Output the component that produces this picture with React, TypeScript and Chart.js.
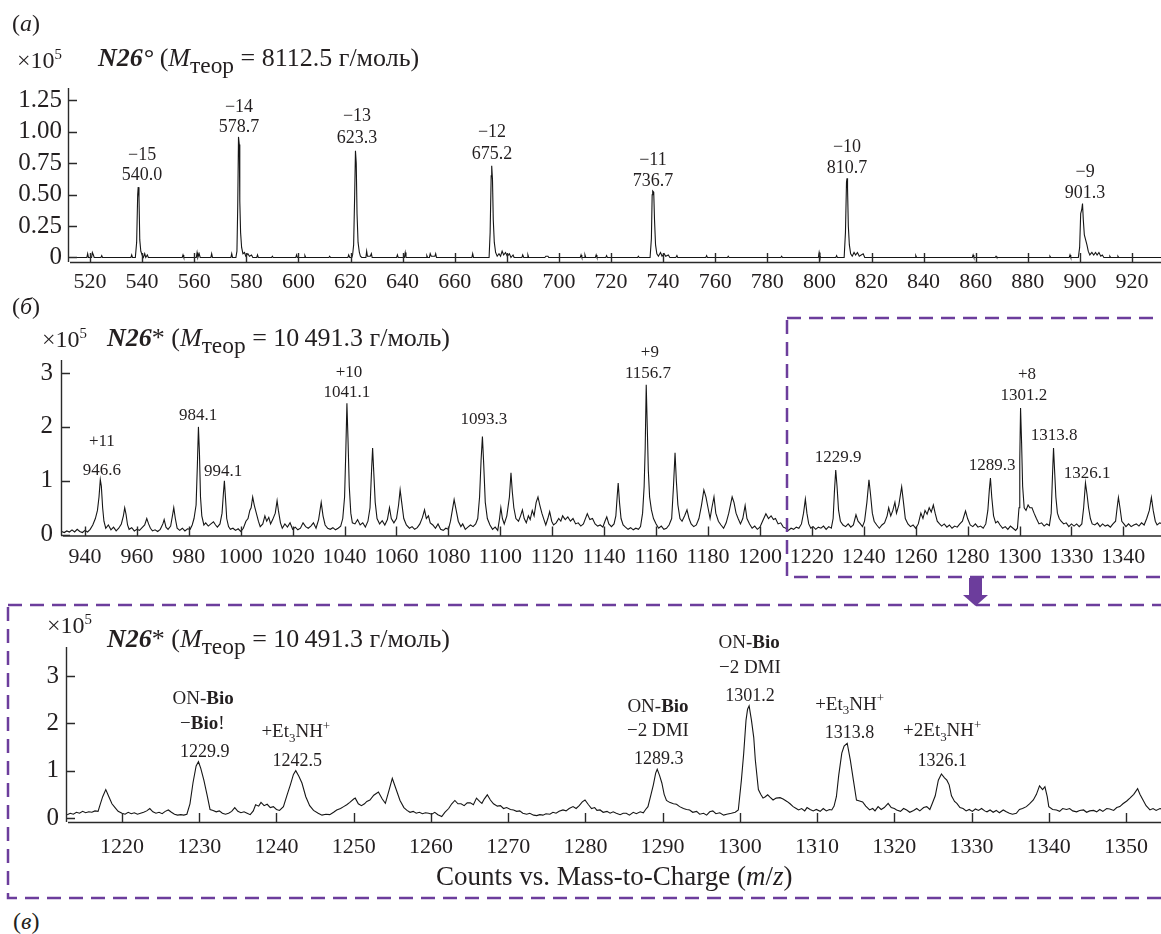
import React, { useEffect, useRef } from 'react';
import { Chart, registerables } from 'chart.js';

Chart.register(...registerables);

const TEXT = '#231f20';
const LINE = '#161616';
const PURPLE = '#6c3d9c';
const SERIF = '"Liberation Serif", "Times New Roman", serif';

// ---------- tick values / labels ----------
const xTicksA = [520, 540, 560, 580, 600, 620, 640, 660, 680, 700, 720, 740, 760, 780, 800, 820, 840, 860, 880, 900, 920];
const xLabelsA = ['520', '540', '560', '580', '600', '620', '640', '660', '680', '700', '720', '740', '760', '780', '800', '820', '840', '860', '880', '900', '920'];
const yTicksA = [0, 0.25, 0.5, 0.75, 1, 1.25];
const yLabelsA = ['0', '0.25', '0.50', '0.75', '1.00', '1.25'];

const xTicksB = [940, 960, 980, 1000, 1020, 1040, 1060, 1080, 1100, 1120, 1140, 1160, 1180, 1200, 1220, 1240, 1260, 1280, 1300, 1320, 1340];
const xLabelsB = ['940', '960', '980', '1000', '1020', '1040', '1060', '1080', '1100', '1120', '1140', '1160', '1180', '1200', '1220', '1240', '1260', '1280', '1300', '1330', '1340'];
const yTicksB = [0, 1, 2, 3];
const yLabelsB = ['0', '1', '2', '3'];

const xTicksC = [1220, 1230, 1240, 1250, 1260, 1270, 1280, 1290, 1300, 1310, 1320, 1330, 1340, 1350];
const xLabelsC = ['1220', '1230', '1240', '1250', '1260', '1270', '1280', '1290', '1300', '1310', '1320', '1330', '1340', '1350'];
const yTicksC = [0, 1, 2, 3];
const yLabelsC = ['0', '1', '2', '3'];

// ---------- spectra (m/z, counts ×10^5) ----------
const spectrumA: [number, number][] = [
  [511.6, 0], [518.8, 0], [519.1, 0.03], [519.4, 0], [520.6, 0], [520.9, 0.04], [521.3, 0.02], [521.6, 0], [524.2, 0], [524.5, 0.015], [524.8, 0],
  [535.7, 0], [536.0, 0.02], [536.3, 0],
  [537.4, 0], [537.9, 0.12], [538.3, 0.5], [538.5, 0.56], [538.8, 0.48], [539.1, 0.14], [539.5, 0.05], [540.0, 0.02], [540.5, 0], [541.0, 0.03], [541.4, 0], [542.0, 0.02], [542.4, 0],
  [555.4, 0], [555.7, 0.02], [556.0, 0], [560.8, 0], [561.1, 0.04], [561.4, 0], [561.9, 0.03], [562.3, 0], [566.4, 0], [566.7, 0.03], [567.0, 0], [574.1, 0], [574.4, 0.03], [574.7, 0],
  [576.0, 0], [576.4, 0.05], [576.7, 0.4], [577.0, 0.96], [577.3, 0.9], [577.5, 0.45], [577.8, 0.2], [578.2, 0.08], [578.7, 0.03], [579.3, 0.04], [579.8, 0.01], [580.6, 0.03], [581.2, 0.01], [582.0, 0.02], [582.5, 0],
  [584.0, 0], [584.3, 0.02], [584.6, 0], [589.7, 0], [590.0, 0.01], [590.3, 0],
  [599.0, 0], [599.3, 0.02], [599.6, 0], [602.2, 0], [602.5, 0.015], [602.8, 0], [611.7, 0], [612.0, 0.01], [612.3, 0], [619.0, 0], [619.3, 0.02], [619.7, 0], [620.5, 0], [620.8, 0.02],
  [621.2, 0.1], [621.6, 0.5], [621.9, 0.85], [622.2, 0.75], [622.5, 0.35], [622.9, 0.12], [623.4, 0.04], [623.8, 0.01], [624.3, 0], [625.9, 0], [626.2, 0.05], [626.5, 0.01], [627.6, 0.01], [628.0, 0.03], [628.3, 0],
  [637.7, 0], [638.0, 0.02], [638.3, 0], [640.7, 0], [641.0, 0.04], [641.3, 0],
  [649.0, 0], [649.3, 0.015], [649.6, 0], [650.3, 0], [650.6, 0.03], [651.0, 0.01], [652.4, 0.01], [652.7, 0.03], [653.0, 0], [666.6, 0], [666.9, 0.03], [667.2, 0],
  [673.2, 0], [673.6, 0.2], [674.0, 0.65], [674.2, 0.73], [674.5, 0.62], [674.8, 0.3], [675.2, 0.12], [675.7, 0.04], [676.3, 0.01], [677.0, 0.03], [677.6, 0.01], [678.2, 0.05], [678.8, 0.02], [679.5, 0.04], [680.2, 0.01], [681.0, 0.03], [681.6, 0], [682.4, 0.02], [682.8, 0],
  [685.8, 0], [686.1, 0.02], [686.5, 0], [687.8, 0], [688.1, 0.02], [688.4, 0],
  [694.6, 0], [695.0, 0.01], [695.8, 0.01], [696.1, 0], [708.2, 0], [708.5, 0.02], [708.8, 0], [709.7, 0], [710.0, 0.02], [710.3, 0], [714.0, 0], [714.3, 0.02], [714.6, 0], [718.0, 0], [718.3, 0.015], [718.6, 0], [730.2, 0], [730.5, 0.01], [730.8, 0],
  [735.0, 0], [735.5, 0.15], [735.8, 0.5], [736.0, 0.53], [736.4, 0.52], [736.7, 0.3], [737.1, 0.1], [737.6, 0.03], [738.2, 0.01], [739.0, 0.04], [739.6, 0.01], [740.4, 0.03], [741.0, 0.01], [742.0, 0.02], [742.6, 0], [744.9, 0], [745.3, 0.015], [745.6, 0],
  [756.4, 0], [756.7, 0.015], [757.0, 0], [764.7, 0], [765.0, 0.01], [765.3, 0], [785.2, 0], [785.5, 0.01], [785.8, 0], [799.6, 0], [799.9, 0.04], [800.2, 0.01], [800.6, 0], [806.3, 0], [806.6, 0.015], [806.9, 0],
  [809.5, 0], [810.0, 0.2], [810.4, 0.6], [810.6, 0.63], [810.8, 0.55], [811.1, 0.25], [811.5, 0.1], [812.0, 0.03], [812.6, 0.01], [813.3, 0.04], [813.9, 0.02], [814.6, 0.04], [815.3, 0.01], [816.8, 0.03], [817.4, 0],
  [836.7, 0], [837.0, 0.015], [837.3, 0], [858.7, 0], [859.0, 0.02], [859.3, 0], [867.5, 0], [867.8, 0.01], [868.1, 0], [888.2, 0], [888.5, 0.01], [888.8, 0], [895.9, 0], [896.2, 0.02], [896.5, 0],
  [899.4, 0], [899.9, 0.08], [900.3, 0.35], [900.7, 0.38], [901.0, 0.43], [901.3, 0.3], [901.7, 0.18], [902.2, 0.14], [902.7, 0.1], [903.2, 0.05], [903.8, 0.02], [904.6, 0.04], [905.3, 0.02], [906.0, 0.04], [906.6, 0.02], [907.3, 0.04], [908.0, 0.01], [908.6, 0.02], [909.2, 0],
  [911.2, 0], [911.5, 0.01], [911.8, 0], [914.3, 0], [914.6, 0.01], [914.9, 0], [931.5, 0],
];

const spectrumB: [number, number][] = [
  [931, 0.06], [932, 0.04], [933, 0.07], [934, 0.05], [935, 0.09], [936, 0.05], [937, 0.1], [938, 0.06], [939, 0.04], [940, 0.08], [941, 0.05], [942, 0.1], [943, 0.18], [944, 0.3],
  [944.8, 0.45], [945.4, 0.7], [945.9, 1.02], [946.3, 0.9], [946.8, 0.5], [947.3, 0.25], [948, 0.12], [949, 0.18], [950, 0.09], [951, 0.14], [952, 0.07], [953, 0.12], [954, 0.2],
  [954.8, 0.35], [955.3, 0.5], [955.8, 0.38], [956.4, 0.18], [957, 0.1], [958, 0.13], [959, 0.07], [960, 0.1], [961, 0.08], [962, 0.13], [963, 0.18], [963.8, 0.3], [964.5, 0.2],
  [965.2, 0.12], [966, 0.07], [967, 0.09], [968, 0.06], [969, 0.1], [970, 0.2], [970.5, 0.28], [971.2, 0.14], [972, 0.1], [973, 0.16], [973.8, 0.38], [974.2, 0.5], [974.8, 0.3],
  [975.5, 0.12], [976.5, 0.08], [977.5, 0.12], [978.5, 0.07], [979.5, 0.11], [980.5, 0.1], [981.3, 0.18], [982, 0.3], [982.8, 0.55], [983.3, 1.3], [983.7, 2.0], [984.1, 1.5],
  [984.5, 0.7], [985, 0.35], [985.8, 0.18], [986.5, 0.22], [987.5, 0.16], [988.5, 0.2], [989.5, 0.24], [990.3, 0.18], [991, 0.14], [992, 0.2], [992.8, 0.4], [993.3, 0.75],
  [993.7, 1.0], [994.1, 0.7], [994.6, 0.3], [995.3, 0.15], [996, 0.1], [997, 0.12], [998, 0.08], [999, 0.11], [1000, 0.06], [1001, 0.12], [1002, 0.25], [1002.8, 0.3],
  [1003.5, 0.45], [1004, 0.5], [1004.6, 0.7], [1005.2, 0.55], [1006, 0.4], [1006.8, 0.25], [1007.5, 0.15], [1008.5, 0.2], [1009.3, 0.35], [1010, 0.25], [1010.8, 0.32],
  [1011.5, 0.2], [1012.3, 0.28], [1013.3, 0.4], [1014, 0.63], [1014.5, 0.45], [1015.3, 0.22], [1016, 0.12], [1017, 0.2], [1018, 0.14], [1019, 0.22], [1020, 0.1], [1021, 0.14],
  [1022, 0.09], [1023, 0.12], [1024, 0.22], [1025, 0.15], [1026, 0.12], [1027, 0.16], [1028, 0.22], [1029, 0.12], [1030, 0.28], [1031, 0.6], [1031.7, 0.35], [1032.5, 0.18],
  [1033.5, 0.12], [1034.5, 0.1], [1035.5, 0.13], [1036.5, 0.09], [1037.5, 0.12], [1038.5, 0.16], [1039.3, 0.3], [1040, 0.7], [1040.5, 1.6], [1040.9, 2.44], [1041.3, 1.8],
  [1041.8, 0.9], [1042.4, 0.4], [1043, 0.22], [1044, 0.2], [1045, 0.28], [1046, 0.18], [1047, 0.22], [1048, 0.14], [1049, 0.25], [1049.8, 0.5], [1050.4, 1.2], [1050.8, 1.61],
  [1051.2, 1.2], [1051.8, 0.6], [1052.5, 0.3], [1053.5, 0.2], [1054.5, 0.26], [1055.5, 0.18], [1056.5, 0.28], [1057.3, 0.5], [1058, 0.3], [1059, 0.22], [1060, 0.3],
  [1060.8, 0.55], [1061.4, 0.83], [1062, 0.6], [1062.8, 0.3], [1063.8, 0.18], [1065, 0.12], [1066, 0.15], [1067, 0.1], [1068, 0.13], [1069, 0.2], [1070, 0.32], [1070.8, 0.46],
  [1071.5, 0.3], [1072.3, 0.35], [1073, 0.22], [1074, 0.18], [1075, 0.12], [1076, 0.2], [1077, 0.1], [1078, 0.08], [1079, 0.12], [1080, 0.1], [1080.8, 0.25], [1081.5, 0.45],
  [1082.2, 0.65], [1083, 0.45], [1083.8, 0.25], [1084.8, 0.15], [1085.5, 0.2], [1086.5, 0.1], [1087.5, 0.14], [1088.5, 0.18], [1089.5, 0.15], [1090.5, 0.2], [1091.3, 0.3],
  [1092, 0.7], [1092.6, 1.4], [1093.1, 1.82], [1093.6, 1.3], [1094.2, 0.6], [1095, 0.3], [1096, 0.18], [1097, 0.1], [1098, 0.14], [1099, 0.08], [1099.7, 0.3], [1100.2, 0.5],
  [1100.8, 0.3], [1101.5, 0.2], [1102.5, 0.35], [1103.5, 0.7], [1104.1, 1.15], [1104.6, 0.8], [1105.2, 0.5], [1106, 0.3], [1107, 0.25], [1107.8, 0.35], [1108.5, 0.46],
  [1109.2, 0.3], [1110, 0.22], [1110.8, 0.35], [1111.5, 0.28], [1112.3, 0.45], [1113, 0.35], [1113.8, 0.6], [1114.5, 0.7], [1115.2, 0.55], [1116, 0.4], [1116.8, 0.28],
  [1117.5, 0.18], [1118.3, 0.3], [1119, 0.43], [1119.8, 0.25], [1120.5, 0.18], [1121.5, 0.22], [1122.5, 0.3], [1123.3, 0.25], [1124, 0.35], [1125, 0.28], [1126, 0.33],
  [1127, 0.25], [1128, 0.3], [1129, 0.2], [1130, 0.22], [1131, 0.16], [1132, 0.2], [1133.5, 0.39], [1134.5, 0.28], [1135.5, 0.3], [1136.5, 0.2], [1137.5, 0.16], [1138.5, 0.18],
  [1139.5, 0.14], [1140.3, 0.25], [1141, 0.33], [1141.8, 0.2], [1142.8, 0.15], [1143.8, 0.2], [1144.5, 0.35], [1145, 0.7], [1145.4, 0.96], [1145.9, 0.6], [1146.5, 0.3],
  [1147.3, 0.18], [1148.2, 0.14], [1149.2, 0.1], [1150.2, 0.13], [1151.2, 0.09], [1152.2, 0.12], [1153.2, 0.1], [1154, 0.15], [1154.8, 0.4], [1155.4, 0.9], [1155.8, 1.6],
  [1156.2, 2.78], [1156.6, 2.0], [1157, 1.2], [1157.5, 0.7], [1158.2, 0.46], [1159, 0.3], [1160, 0.2], [1161, 0.12], [1162, 0.16], [1163, 0.1], [1164, 0.12], [1165, 0.18],
  [1166, 0.3], [1166.7, 0.9], [1167.3, 1.52], [1167.8, 1.0], [1168.4, 0.55], [1169.2, 0.3], [1170, 0.25], [1171, 0.35], [1171.9, 0.46], [1172.7, 0.3], [1173.5, 0.2],
  [1174.5, 0.15], [1175.5, 0.18], [1176.5, 0.3], [1177.5, 0.55], [1178.4, 0.83], [1179.2, 0.7], [1180, 0.5], [1180.8, 0.3], [1181.5, 0.5], [1182.3, 0.7], [1183, 0.4],
  [1184, 0.25], [1185, 0.18], [1186, 0.12], [1187, 0.22], [1188, 0.4], [1189.3, 0.7], [1190, 0.6], [1190.8, 0.4], [1191.6, 0.3], [1192.5, 0.2], [1193.4, 0.3], [1194.3, 0.54],
  [1195, 0.3], [1196, 0.2], [1197, 0.12], [1198, 0.16], [1199, 0.1], [1200, 0.14], [1201, 0.25], [1202.3, 0.39], [1203.3, 0.3], [1204.3, 0.35], [1205.2, 0.28], [1206, 0.3],
  [1207, 0.2], [1208, 0.22], [1209, 0.14], [1210, 0.12], [1211, 0.08], [1212, 0.12], [1213, 0.1], [1214, 0.14], [1215, 0.12], [1216, 0.2], [1216.8, 0.4], [1217.5, 0.66],
  [1218.1, 0.4], [1218.8, 0.2], [1219.6, 0.12], [1220.5, 0.15], [1221.5, 0.1], [1222.5, 0.14], [1223.5, 0.12], [1224.5, 0.16], [1225.5, 0.1], [1226.5, 0.15], [1227.5, 0.12],
  [1228.2, 0.3], [1228.7, 0.8], [1229.2, 1.2], [1229.7, 0.9], [1230.3, 0.45], [1231, 0.25], [1232, 0.18], [1233, 0.15], [1234, 0.2], [1235, 0.14], [1236, 0.18], [1237, 0.37],
  [1237.8, 0.25], [1238.7, 0.2], [1239.5, 0.15], [1240.3, 0.25], [1241.2, 0.6], [1242, 1.02], [1242.6, 0.75], [1243.3, 0.4], [1244, 0.25], [1245, 0.18], [1246, 0.12],
  [1247, 0.18], [1248, 0.22], [1249, 0.35], [1249.6, 0.5], [1250.4, 0.35], [1251.2, 0.45], [1252, 0.6], [1252.6, 0.4], [1253.5, 0.55], [1254.6, 0.89], [1255.3, 0.6],
  [1256, 0.3], [1257, 0.2], [1258, 0.15], [1259, 0.18], [1260, 0.12], [1261, 0.2], [1262, 0.4], [1262.8, 0.3], [1263.6, 0.45], [1264.4, 0.38], [1265.2, 0.5], [1266, 0.42],
  [1266.8, 0.55], [1267.5, 0.4], [1268.3, 0.25], [1269.2, 0.2], [1270, 0.16], [1271, 0.2], [1272, 0.14], [1273, 0.18], [1274, 0.12], [1275, 0.16], [1276, 0.14], [1277, 0.2],
  [1278, 0.25], [1279.2, 0.44], [1280, 0.3], [1281, 0.18], [1282, 0.15], [1283, 0.2], [1284, 0.14], [1285, 0.16], [1286, 0.12], [1287, 0.2], [1287.8, 0.45], [1288.4, 0.85],
  [1288.8, 1.05], [1289.3, 0.7], [1290, 0.35], [1290.8, 0.22], [1291.6, 0.25], [1292.5, 0.18], [1293.5, 0.12], [1294.5, 0.15], [1295.5, 0.1], [1296.5, 0.16], [1297.5, 0.12],
  [1298.5, 0.08], [1299.2, 0.12], [1299.8, 0.5], [1300.1, 1.4], [1300.4, 2.35], [1300.8, 1.7], [1301.2, 0.9], [1301.8, 0.5], [1302.5, 0.45], [1303.3, 0.55], [1304, 0.5],
  [1304.8, 0.5], [1305.6, 0.4], [1306.5, 0.3], [1307.5, 0.2], [1308.5, 0.22], [1309.5, 0.16], [1310.5, 0.2], [1311.5, 0.17], [1312.2, 0.4], [1312.7, 1.1], [1313.1, 1.61],
  [1313.5, 1.2], [1314, 0.7], [1314.6, 0.4], [1315.3, 0.3], [1316, 0.25], [1317, 0.2], [1318, 0.22], [1319, 0.15], [1320, 0.2], [1321, 0.16], [1322, 0.2], [1323, 0.15],
  [1324, 0.2], [1324.7, 0.5], [1325.4, 0.96], [1326, 0.75], [1326.6, 0.5], [1327.3, 0.3], [1328, 0.2], [1329, 0.18], [1330, 0.22], [1331, 0.15], [1332, 0.2], [1333, 0.16],
  [1334, 0.18], [1335, 0.14], [1336, 0.2], [1337, 0.25], [1337.6, 0.5], [1338.1, 0.69], [1338.7, 0.5], [1339.4, 0.25], [1340.2, 0.2], [1341, 0.15], [1342, 0.2], [1343, 0.15],
  [1344, 0.18], [1345, 0.2], [1346, 0.16], [1347, 0.22], [1348, 0.18], [1349, 0.3], [1350, 0.45], [1350.8, 0.69], [1351.5, 0.45], [1352.3, 0.25], [1353, 0.18], [1354, 0.22],
  [1355, 0.2],
];

const spectrumC: [number, number][] = [
  [1212.9, 0.07], [1213.3, 0.1], [1213.7, 0.08], [1214.1, 0.12], [1214.5, 0.1], [1214.9, 0.14], [1215.3, 0.11], [1215.7, 0.13], [1216.1, 0.12], [1216.5, 0.15], [1216.9, 0.14],
  [1217.2, 0.3], [1217.5, 0.45], [1217.9, 0.6], [1218.3, 0.45], [1218.7, 0.3], [1219.1, 0.22], [1219.5, 0.14], [1220.0, 0.1], [1220.4, 0.08], [1220.8, 0.12], [1221.2, 0.09],
  [1221.6, 0.11], [1222.0, 0.08], [1222.4, 0.1], [1222.8, 0.12], [1223.2, 0.15], [1223.6, 0.2], [1224.0, 0.13], [1224.4, 0.1], [1224.8, 0.12], [1225.2, 0.09], [1225.6, 0.14],
  [1226.0, 0.17], [1226.4, 0.12], [1226.8, 0.08], [1227.2, 0.06], [1227.6, 0.07], [1228.0, 0.06], [1228.4, 0.08], [1228.8, 0.3], [1229.2, 0.75], [1229.6, 1.1], [1229.9, 1.19],
  [1230.2, 1.05], [1230.6, 0.8], [1231.0, 0.5], [1231.4, 0.18], [1231.8, 0.16], [1232.2, 0.13], [1232.6, 0.15], [1233.0, 0.1], [1233.4, 0.08], [1233.8, 0.1], [1234.2, 0.14],
  [1234.6, 0.22], [1235.0, 0.14], [1235.4, 0.11], [1235.8, 0.13], [1236.2, 0.1], [1236.6, 0.07], [1237.0, 0.15], [1237.3, 0.28], [1237.7, 0.25], [1238.0, 0.33], [1238.4, 0.26],
  [1238.8, 0.29], [1239.2, 0.22], [1239.6, 0.24], [1240.0, 0.18], [1240.4, 0.16], [1240.9, 0.24], [1241.4, 0.5], [1241.8, 0.7], [1242.2, 0.92], [1242.5, 1.0], [1242.9, 0.88],
  [1243.3, 0.74], [1243.8, 0.45], [1244.3, 0.26], [1244.8, 0.16], [1245.4, 0.1], [1245.9, 0.06], [1246.4, 0.08], [1246.9, 0.07], [1247.4, 0.12], [1247.8, 0.17], [1248.3, 0.2],
  [1248.7, 0.24], [1249.1, 0.28], [1249.5, 0.33], [1250.0, 0.4], [1250.2, 0.42], [1250.6, 0.3], [1251.0, 0.26], [1251.4, 0.3], [1251.7, 0.35], [1252.1, 0.38], [1252.6, 0.48],
  [1253.2, 0.55], [1253.7, 0.4], [1254.1, 0.31], [1254.6, 0.6], [1255.0, 0.84], [1255.4, 0.65], [1256.0, 0.37], [1256.5, 0.22], [1256.9, 0.16], [1257.3, 0.12], [1257.7, 0.14],
  [1258.1, 0.1], [1258.5, 0.12], [1258.9, 0.09], [1259.3, 0.11], [1259.7, 0.1], [1260.1, 0.08], [1260.5, 0.12], [1260.9, 0.07], [1261.4, 0.03], [1261.8, 0.12], [1262.3, 0.2],
  [1262.7, 0.3], [1263.1, 0.37], [1263.5, 0.3], [1263.9, 0.3], [1264.3, 0.26], [1264.7, 0.32], [1265.1, 0.32], [1265.5, 0.28], [1265.9, 0.42], [1266.3, 0.35], [1266.6, 0.31],
  [1266.9, 0.4], [1267.3, 0.49], [1267.7, 0.38], [1268.1, 0.3], [1268.6, 0.25], [1269.0, 0.26], [1269.4, 0.2], [1269.8, 0.22], [1270.3, 0.18], [1270.7, 0.17], [1271.1, 0.14],
  [1271.5, 0.15], [1271.9, 0.1], [1272.4, 0.08], [1272.8, 0.1], [1273.3, 0.06], [1273.7, 0.05], [1274.1, 0.07], [1274.5, 0.06], [1274.9, 0.09], [1275.4, 0.08], [1275.8, 0.12],
  [1276.2, 0.1], [1276.6, 0.14], [1277.1, 0.17], [1277.5, 0.15], [1277.9, 0.2], [1278.4, 0.24], [1278.8, 0.2], [1279.2, 0.26], [1279.6, 0.34], [1279.95, 0.38], [1280.4, 0.28],
  [1280.8, 0.2], [1281.2, 0.22], [1281.5, 0.16], [1281.9, 0.17], [1282.3, 0.12], [1282.8, 0.14], [1283.2, 0.1], [1283.6, 0.13], [1284.0, 0.1], [1284.5, 0.07], [1284.9, 0.1],
  [1285.3, 0.1], [1285.7, 0.06], [1286.2, 0.12], [1286.6, 0.09], [1287.1, 0.13], [1287.5, 0.11], [1287.8, 0.18], [1288.1, 0.24], [1288.5, 0.5], [1288.8, 0.7], [1289.1, 0.95],
  [1289.3, 1.03], [1289.6, 0.9], [1289.9, 0.74], [1290.2, 0.5], [1290.5, 0.37], [1290.9, 0.33], [1291.4, 0.3], [1291.8, 0.29], [1292.2, 0.24], [1292.7, 0.2], [1293.1, 0.18],
  [1293.5, 0.17], [1293.9, 0.12], [1294.4, 0.14], [1294.8, 0.08], [1295.3, 0.1], [1295.7, 0.06], [1296.1, 0.13], [1296.5, 0.15], [1296.9, 0.09], [1297.4, 0.11], [1297.9, 0.06],
  [1298.3, 0.08], [1298.9, 0.1], [1299.4, 0.12], [1299.8, 0.17], [1300.2, 0.8], [1300.5, 1.37], [1300.8, 2.07], [1301.0, 2.3], [1301.2, 2.37], [1301.5, 2.07], [1301.8, 1.7],
  [1302.0, 1.23], [1302.4, 0.6], [1302.7, 0.5], [1303.0, 0.42], [1303.3, 0.45], [1303.6, 0.49], [1303.9, 0.44], [1304.3, 0.38], [1304.7, 0.42], [1305.2, 0.43], [1305.6, 0.4],
  [1306.1, 0.35], [1306.5, 0.3], [1306.9, 0.24], [1307.3, 0.2], [1307.6, 0.17], [1308.0, 0.2], [1308.4, 0.15], [1308.7, 0.22], [1309.1, 0.18], [1309.5, 0.15], [1309.9, 0.18],
  [1310.4, 0.14], [1310.8, 0.2], [1311.2, 0.15], [1311.6, 0.18], [1311.9, 0.17], [1312.2, 0.25], [1312.5, 0.45], [1312.8, 0.9], [1313.2, 1.37], [1313.5, 1.52], [1313.9, 1.58],
  [1314.3, 1.23], [1314.7, 0.8], [1315.1, 0.38], [1315.5, 0.36], [1315.9, 0.34], [1316.3, 0.25], [1316.8, 0.17], [1317.2, 0.2], [1317.5, 0.15], [1317.9, 0.24], [1318.3, 0.18],
  [1318.7, 0.22], [1319.2, 0.31], [1319.6, 0.22], [1320.0, 0.2], [1320.3, 0.17], [1320.8, 0.14], [1321.2, 0.2], [1321.6, 0.17], [1322.0, 0.12], [1322.5, 0.16], [1322.9, 0.2],
  [1323.3, 0.15], [1323.8, 0.22], [1324.2, 0.24], [1324.6, 0.18], [1324.9, 0.3], [1325.3, 0.47], [1325.7, 0.8], [1326.1, 0.93], [1326.5, 0.85], [1326.8, 0.8], [1327.1, 0.7],
  [1327.4, 0.47], [1327.8, 0.35], [1328.1, 0.31], [1328.5, 0.22], [1328.9, 0.2], [1329.3, 0.15], [1329.7, 0.18], [1330.1, 0.14], [1330.5, 0.19], [1330.9, 0.16], [1331.3, 0.2],
  [1331.7, 0.15], [1332.0, 0.13], [1332.4, 0.17], [1332.8, 0.12], [1333.2, 0.16], [1333.6, 0.11], [1334.1, 0.17], [1334.5, 0.13], [1334.9, 0.1], [1335.3, 0.08], [1335.8, 0.1],
  [1336.2, 0.18], [1336.6, 0.2], [1337.1, 0.24], [1337.5, 0.3], [1338.0, 0.38], [1338.4, 0.5], [1338.8, 0.68], [1339.2, 0.6], [1339.5, 0.66], [1339.8, 0.45], [1340.0, 0.24],
  [1340.5, 0.18], [1341.0, 0.17], [1341.4, 0.14], [1341.8, 0.2], [1342.3, 0.18], [1342.7, 0.2], [1343.1, 0.15], [1343.6, 0.13], [1344.0, 0.16], [1344.5, 0.17], [1344.9, 0.12],
  [1345.3, 0.15], [1345.8, 0.16], [1346.2, 0.13], [1346.6, 0.18], [1347.0, 0.14], [1347.5, 0.2], [1347.9, 0.19], [1348.4, 0.16], [1348.8, 0.22], [1349.2, 0.24], [1349.6, 0.3],
  [1350.1, 0.36], [1350.5, 0.42], [1351.0, 0.5], [1351.5, 0.62], [1351.8, 0.5], [1352.2, 0.38], [1352.6, 0.26], [1353.1, 0.17], [1353.5, 0.2], [1353.9, 0.16], [1354.4, 0.2],
  [1354.8, 0.18],
];

// ---------- peak annotations (anchored at m/z, counts) ----------
type Seg = { t: string; b?: boolean; i?: boolean; sub?: boolean; sup?: boolean };
type Ann = { mz: number; v: number; segs: Seg[]; size: number };
const txt = (t: string): Seg[] => [{ t }];
const onBio: Seg[] = [{ t: 'ON-' }, { t: 'Bio', b: true }];
const minusBio: Seg[] = [{ t: '\u2212' }, { t: 'Bio', b: true }, { t: '!' }];
const minus2DMI: Seg[] = [{ t: '\u22122 DMI' }];
const et3nh: Seg[] = [{ t: '+Et' }, { t: '3', sub: true }, { t: 'NH' }, { t: '+', sup: true }];
const et3nh2: Seg[] = [{ t: '+2Et' }, { t: '3', sub: true }, { t: 'NH' }, { t: '+', sup: true }];

const annA: Ann[] = [
  { mz: 540.0, v: 0.824, segs: txt('\u221215'), size: 18 }, { mz: 540.0, v: 0.665, segs: txt('540.0'), size: 18 },
  { mz: 577.2, v: 1.206, segs: txt('\u221214'), size: 18 }, { mz: 577.2, v: 1.047, segs: txt('578.7'), size: 18 },
  { mz: 622.5, v: 1.135, segs: txt('\u221213'), size: 18 }, { mz: 622.5, v: 0.959, segs: txt('623.3'), size: 18 },
  { mz: 674.3, v: 1.008, segs: txt('\u221212'), size: 18 }, { mz: 674.3, v: 0.832, segs: txt('675.2'), size: 18 },
  { mz: 736.1, v: 0.784, segs: txt('\u221211'), size: 18 }, { mz: 736.1, v: 0.617, segs: txt('736.7'), size: 18 },
  { mz: 810.6, v: 0.888, segs: txt('\u221210'), size: 18 }, { mz: 810.6, v: 0.721, segs: txt('810.7'), size: 18 },
  { mz: 902.0, v: 0.689, segs: txt('\u22129'), size: 18 }, { mz: 902.0, v: 0.521, segs: txt('901.3'), size: 18 },
];

const annB: Ann[] = [
  { mz: 946.5, v: 1.76, segs: txt('+11'), size: 17 }, { mz: 946.5, v: 1.22, segs: txt('946.6'), size: 17 },
  { mz: 983.6, v: 2.24, segs: txt('984.1'), size: 17 },
  { mz: 993.2, v: 1.19, segs: txt('994.1'), size: 17 },
  { mz: 1041.7, v: 3.04, segs: txt('+10'), size: 17 }, { mz: 1040.9, v: 2.67, segs: txt('1041.1'), size: 17 },
  { mz: 1093.7, v: 2.17, segs: txt('1093.3'), size: 17 },
  { mz: 1157.6, v: 3.41, segs: txt('+9'), size: 17 }, { mz: 1156.9, v: 3.01, segs: txt('1156.7'), size: 17 },
  { mz: 1230.1, v: 1.46, segs: txt('1229.9'), size: 17 },
  { mz: 1289.4, v: 1.31, segs: txt('1289.3'), size: 17 },
  { mz: 1302.9, v: 3.0, segs: txt('+8'), size: 17 }, { mz: 1301.7, v: 2.61, segs: txt('1301.2'), size: 17 },
  { mz: 1313.3, v: 1.87, segs: txt('1313.8'), size: 17 },
  { mz: 1326.0, v: 1.15, segs: txt('1326.1'), size: 17 },
];

const annC: Ann[] = [
  { mz: 1230.5, v: 2.54, segs: onBio, size: 19 }, { mz: 1230.4, v: 2.02, segs: minusBio, size: 19 }, { mz: 1230.7, v: 1.42, segs: txt('1229.9'), size: 18 },
  { mz: 1242.5, v: 1.84, segs: et3nh, size: 19 }, { mz: 1242.7, v: 1.23, segs: txt('1242.5'), size: 18 },
  { mz: 1289.4, v: 2.37, segs: onBio, size: 19 }, { mz: 1289.4, v: 1.87, segs: minus2DMI, size: 19 }, { mz: 1289.5, v: 1.28, segs: txt('1289.3'), size: 18 },
  { mz: 1301.2, v: 3.74, segs: onBio, size: 19 }, { mz: 1301.3, v: 3.21, segs: minus2DMI, size: 19 }, { mz: 1301.3, v: 2.61, segs: txt('1301.2'), size: 18 },
  { mz: 1314.2, v: 2.43, segs: et3nh, size: 19 }, { mz: 1314.2, v: 1.81, segs: txt('1313.8'), size: 18 },
  { mz: 1326.2, v: 1.86, segs: et3nh2, size: 19 }, { mz: 1326.2, v: 1.23, segs: txt('1326.1'), size: 18 },
];

// ---------- drawing helpers ----------
function fontOf(s: Seg, size: number) {
  const sz = s.sub || s.sup ? size * 0.68 : size;
  return `${s.i ? 'italic ' : ''}${s.b ? 'bold ' : ''}${sz}px ${SERIF}`;
}

function drawRich(ctx: CanvasRenderingContext2D, segs: Seg[], cx: number, cy: number, size: number) {
  let total = 0;
  const widths = segs.map((s) => {
    ctx.font = fontOf(s, size);
    const w = ctx.measureText(s.t).width;
    total += w;
    return w;
  });
  let x = cx - total / 2;
  const base = cy + size * 0.34;
  segs.forEach((s, k) => {
    ctx.font = fontOf(s, size);
    let y = base;
    if (s.sub) y += size * 0.22;
    if (s.sup) y -= size * 0.4;
    ctx.fillText(s.t, x, y);
    x += widths[k];
  });
}

const decorPlugin = {
  id: 'decor',
  afterDraw(chart: any, _args: any, opts: any) {
    const { ctx, chartArea: a, scales } = chart;
    const xs = scales.x;
    const ys = scales.y;
    ctx.save();
    ctx.strokeStyle = '#2a2a2a';
    ctx.lineWidth = 1.4;
    ctx.beginPath();
    ctx.moveTo(a.left + 0.5, a.top);
    ctx.lineTo(a.left + 0.5, a.bottom);
    ctx.moveTo(a.left + 2, a.bottom + 0.5);
    ctx.lineTo(a.right, a.bottom + 0.5);
    ys.ticks.forEach((t: any) => {
      const y = Math.round(ys.getPixelForValue(t.value)) + 0.5;
      ctx.moveTo(a.left, y);
      ctx.lineTo(a.left + 9, y);
    });
    xs.ticks.forEach((t: any) => {
      const x = Math.round(xs.getPixelForValue(t.value)) + 0.5;
      ctx.moveTo(x, a.bottom);
      ctx.lineTo(x, a.bottom - 9);
    });
    ctx.stroke();
    ctx.fillStyle = TEXT;
    ctx.textBaseline = 'alphabetic';
    ctx.textAlign = 'left';
    (opts.labels || []).forEach((an: Ann) => {
      drawRich(ctx, an.segs, xs.getPixelForValue(an.mz), ys.getPixelForValue(an.v), an.size);
    });
    ctx.restore();
  },
};

type Panel = {
  top: number; h: number; data: [number, number][];
  xMin: number; xMax: number; yMin: number; yMax: number;
  xTicks: number[]; xLabels: string[]; yTicks: number[]; yLabels: string[];
  padTop: number; padBottom: number; xAxisH: number; yAxisW: number; xPad: number; yPad: number;
  labels: Ann[];
};

function SpectrumChart({ p }: { p: Panel }) {
  const ref = useRef<HTMLCanvasElement>(null);
  useEffect(() => {
    const chart = new Chart(ref.current as HTMLCanvasElement, {
      type: 'line',
      data: {
        datasets: [{
          data: p.data.map(([x, y]) => ({ x, y })),
          borderColor: LINE, borderWidth: 1.1, pointRadius: 0, tension: 0, fill: false,
        }],
      },
      options: {
        responsive: false, animation: false, devicePixelRatio: 1, events: [],
        layout: { padding: { top: p.padTop, bottom: p.padBottom, left: 0, right: 0 } },
        plugins: { legend: { display: false }, tooltip: { enabled: false }, decor: { labels: p.labels } } as any,
        scales: {
          x: {
            type: 'linear', min: p.xMin, max: p.xMax, bounds: 'data',
            grid: { display: false, drawTicks: false }, border: { display: false },
            afterFit: (s: any) => { s.height = p.xAxisH; },
            afterBuildTicks: (s: any) => { s.ticks = p.xTicks.map((value) => ({ value })); },
            ticks: {
              autoSkip: false, maxRotation: 0, minRotation: 0, padding: p.xPad, color: TEXT,
              font: { family: SERIF, size: 22 },
              callback: (_v: any, i: number) => p.xLabels[i],
            },
          },
          y: {
            type: 'linear', min: p.yMin, max: p.yMax, bounds: 'data',
            grid: { display: false, drawTicks: false }, border: { display: false },
            afterFit: (s: any) => { s.width = p.yAxisW; },
            afterBuildTicks: (s: any) => { s.ticks = p.yTicks.map((value) => ({ value })); },
            ticks: {
              autoSkip: false, padding: p.yPad, color: TEXT,
              font: { family: SERIF, size: 25 },
              callback: (_v: any, i: number) => p.yLabels[i],
            },
          },
        },
      } as any,
      plugins: [decorPlugin as any],
    });
    return () => chart.destroy();
  }, [p]);
  return (
    <canvas
      ref={ref}
      width={1161}
      height={p.h}
      style={{ position: 'absolute', left: 0, top: p.top, width: 1161, height: p.h }}
    />
  );
}

const panelA: Panel = {
  top: 0, h: 300, data: spectrumA, xMin: 511.55, xMax: 931.13, yMin: -0.036, yMax: 1.3495,
  xTicks: xTicksA, xLabels: xLabelsA, yTicks: yTicksA, yLabels: yLabelsA,
  padTop: 88, padBottom: 8, xAxisH: 30, yAxisW: 68, xPad: 7, yPad: 6, labels: annA,
};
const panelB: Panel = {
  top: 295, h: 285, data: spectrumB, xMin: 930.76, xMax: 1354.5, yMin: -0.015, yMax: 3.241,
  xTicks: xTicksB, xLabels: xLabelsB, yTicks: yTicksB, yLabels: yLabelsB,
  padTop: 65, padBottom: 14.5, xAxisH: 30, yAxisW: 61, xPad: 9, yPad: 8, labels: annB,
};
const panelC: Panel = {
  top: 600, h: 300, data: spectrumC, xMin: 1212.75, xMax: 1354.53, yMin: -0.085, yMax: 3.615,
  xTicks: xTicksC, xLabels: xLabelsC, yTicks: yTicksC, yLabels: yLabelsC,
  padTop: 47, padBottom: 38, xAxisH: 40, yAxisW: 66, xPad: 12, yPad: 7, labels: annC,
};

const T: React.CSSProperties = {
  position: 'absolute', fontFamily: SERIF, color: TEXT, whiteSpace: 'nowrap', lineHeight: 1,
};
const SUP: React.CSSProperties = { fontSize: '0.62em', position: 'relative', top: '-0.6em' };
const SUB: React.CSSProperties = { fontSize: '0.9em', position: 'relative', top: '0.28em' };

function Times() {
  return (<span>{'\u00d7'}10<span style={SUP}>5</span></span>);
}

export default function App() {
  return (
    <div style={{ position: 'absolute', left: 0, top: 0, width: 1161, height: 934, background: '#fff', overflow: 'hidden' }}>
      <SpectrumChart p={panelA} />
      <SpectrumChart p={panelB} />
      <SpectrumChart p={panelC} />

      <div style={{ ...T, left: 12, top: 11, fontSize: 24 }}>(<i>а</i>)</div>
      <div style={{ ...T, left: 17, top: 48, fontSize: 24 }}><Times /></div>
      <div style={{ ...T, left: 98, top: 45, fontSize: 26 }}>
        <b><i>N26°</i></b> (<i>M</i><span style={SUB}>теор</span> = 8112.5 г/моль)
      </div>

      <div style={{ ...T, left: 12, top: 294, fontSize: 24 }}>(<i>б</i>)</div>
      <div style={{ ...T, left: 42, top: 327, fontSize: 24 }}><Times /></div>
      <div style={{ ...T, left: 107, top: 325, fontSize: 26 }}>
        <b><i>N26</i></b>* (<i>M</i><span style={SUB}>теор</span> = 10{'\u2009'}491.3 г/моль)
      </div>

      <div style={{ ...T, left: 47, top: 613, fontSize: 24 }}><Times /></div>
      <div style={{ ...T, left: 107, top: 626, fontSize: 26 }}>
        <b><i>N26</i></b>* (<i>M</i><span style={SUB}>теор</span> = 10{'\u2009'}491.3 г/моль)
      </div>
      <div style={{ ...T, left: 436, top: 863, fontSize: 27 }}>
        Counts vs. Mass-to-Charge (<i>m</i>/<i>z</i>)
      </div>
      <div style={{ ...T, left: 13, top: 909, fontSize: 24 }}>(<i>в</i>)</div>

      <svg width={1161} height={934} style={{ position: 'absolute', left: 0, top: 0, pointerEvents: 'none' }}>
        <rect x={787} y={318} width={420} height={259} fill="none" stroke={PURPLE} strokeWidth={2.5} strokeDasharray="14 8" />
        <rect x={8} y={605} width={1200} height={293} fill="none" stroke={PURPLE} strokeWidth={2.5} strokeDasharray="14 8" />
        <rect x={969} y={578} width={13} height={18} fill={PURPLE} />
        <polygon points="963,595 988,595 975.5,606" fill={PURPLE} />
      </svg>
    </div>
  );
}
